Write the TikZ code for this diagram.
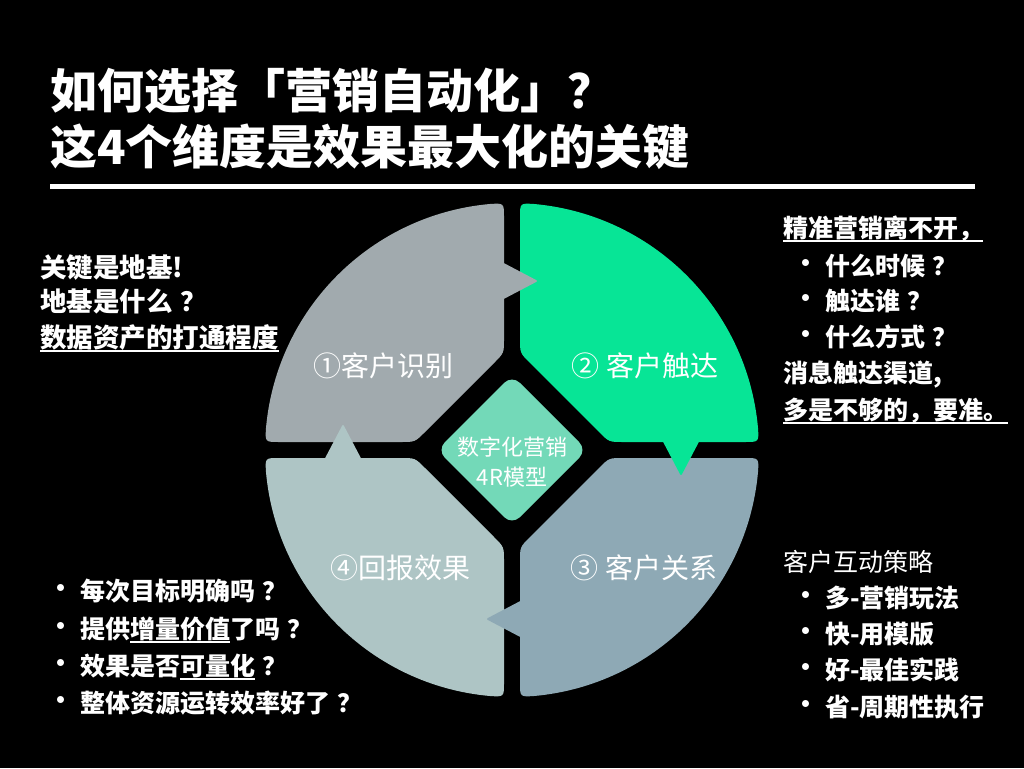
\documentclass[tikz,border=0pt]{standalone}
\usepackage{fontspec}
\setmainfont{Noto Sans CJK SC}
\definecolor{qA}{HTML}{A1AAAE}
\definecolor{qB}{HTML}{07E596}
\definecolor{qC}{HTML}{8EA9B5}
\definecolor{qD}{HTML}{AEC5C5}
\definecolor{dm}{HTML}{73D9B8}
\newcommand\qshape{(-8,232.9) -- (-8,111) .. controls (-8,97) .. (-17.9,87.1) -- (-87.1,17.9) .. controls (-97,8) .. (-111,8) -- (-232.9,8) .. controls (-246.87,8) .. (174.89:247) arc[start angle=174.89,end angle=95.11,radius=247] .. controls (-8,246.87) .. (-8,232.9) -- cycle}
\newcommand\qtab{(-14,190) -- (26,169) -- (-14,148) -- cycle}
\newcommand\myul[1]{\setbox0=\hbox{#1}\rlap{\rule[-0.17em]{\wd0}{2pt}}\box0}
\newcommand\qm{\kern0.3em？}
\begin{document}
\begin{tikzpicture}[x=1pt,y=1pt,
  side/.style={anchor=west,inner sep=0pt,text=white,font=\fontsize{25}{25}\selectfont\bfseries,text height=20pt,text depth=1pt},
  sidel/.style={side,font=\fontsize{26.5}{26.5}\selectfont\bfseries},
  sideplain/.style={side,font=\fontsize{25}{25}\selectfont},
  bul/.style={inner sep=0pt,text=white,font=\fontsize{25}{25}\selectfont\bfseries},
  ttl/.style={anchor=west,inner sep=0pt,text=white,font=\fontsize{47}{47}\selectfont\bfseries,text height=38pt,text depth=2pt},
  qlabel/.style={inner sep=0pt,text=white,font=\fontsize{28}{28}\selectfont,text height=23pt,text depth=1pt},
]
\fill[black] (0,0) rectangle (1024,-768);
\useasboundingbox (0,0) rectangle (1024,-768);
% title
\node[ttl] (t1) at (50,-90) {如何选择「营销自动化」？};
\node[ttl] (t2) at (50,-146) {这4个维度是效果最大化的关键};
\coordinate (r1) at (50,-186);
\coordinate (r2) at (975,-186);
\draw[white,line width=5pt] (r1) -- (r2);
% quadrants
\begin{scope}[shift={(512,-450)}]
  \fill[qA] \qshape;
  \fill[qB,rotate=-90] \qshape;
  \fill[qC,rotate=-180] \qshape;
  \fill[qD,rotate=-270] \qshape;
  \fill[qA,rounded corners=2pt] \qtab;
  \fill[qB,rounded corners=2pt,rotate=-90] \qtab;
  \fill[qC,rounded corners=2pt,rotate=-180] \qtab;
  \fill[qD,rounded corners=2pt,rotate=-270] \qtab;
  \fill[dm,rounded corners=11pt] (0,75) -- (75,0) -- (0,-75) -- (-75,0) -- cycle;
\end{scope}
\node[inner sep=0pt,text=white,align=center,font=\fontsize{22}{30}\selectfont] (core) at (512,-462) {数字化营销\\4R模型};
\node[qlabel] (l1) at (383,-365) {①客户识别};
\node[qlabel] (l2) at (645,-365) {② 客户触达};
\node[qlabel] (l3) at (644,-567) {③ 客户关系};
\node[qlabel] (l4) at (400,-567) {④回报效果};
% left top
\node[sidel] (a1) at (40,-268) {关键是地基!};
\node[sidel] (a2) at (40,-302) {地基是什么\qm};
\node[sidel] (a3) at (40,-338) {\myul{数据资产的打通程度}};
% right top
\node[side] (b1) at (783,-228) {\myul{精准营销离不开，}};
\node[bul] (bb2) at (806,-266) {•};
\node[side] (b2) at (825,-266) {什么时候\qm};
\node[bul] (bb3) at (806,-301) {•};
\node[side] (b3) at (825,-301) {触达谁\qm};
\node[bul] (bb4) at (806,-337) {•};
\node[side] (b4) at (825,-337) {什么方式\qm};
\node[side] (b5) at (783,-373) {消息触达渠道,};
\node[side] (b6) at (783,-410) {\myul{多是不够的，要准。}};
% right bottom
\node[sideplain] (c1) at (783,-562) {客户互动策略};
\node[bul] (cc2) at (806,-598) {•};
\node[side] (c2) at (825,-598) {多-营销玩法};
\node[bul] (cc3) at (806,-634) {•};
\node[side] (c3) at (825,-634) {快-用模版};
\node[bul] (cc4) at (806,-670) {•};
\node[side] (c4) at (825,-670) {好-最佳实践};
\node[bul] (cc5) at (806,-707) {•};
\node[side] (c5) at (825,-707) {省-周期性执行};
% left bottom
\node[bul] (dd1) at (61,-591) {•};
\node[side] (d1) at (80,-591) {每次目标明确吗\qm};
\node[bul] (dd2) at (61,-629) {•};
\node[side] (d2) at (80,-629) {提供\myul{增量价值}了吗\qm};
\node[bul] (dd3) at (61,-666) {•};
\node[side] (d3) at (80,-666) {效果是否\myul{可量化}\qm};
\node[bul] (dd4) at (61,-703) {•};
\node[side] (d4) at (80,-703) {整体资源运转效率好了\qm};
\end{tikzpicture}
\end{document}
